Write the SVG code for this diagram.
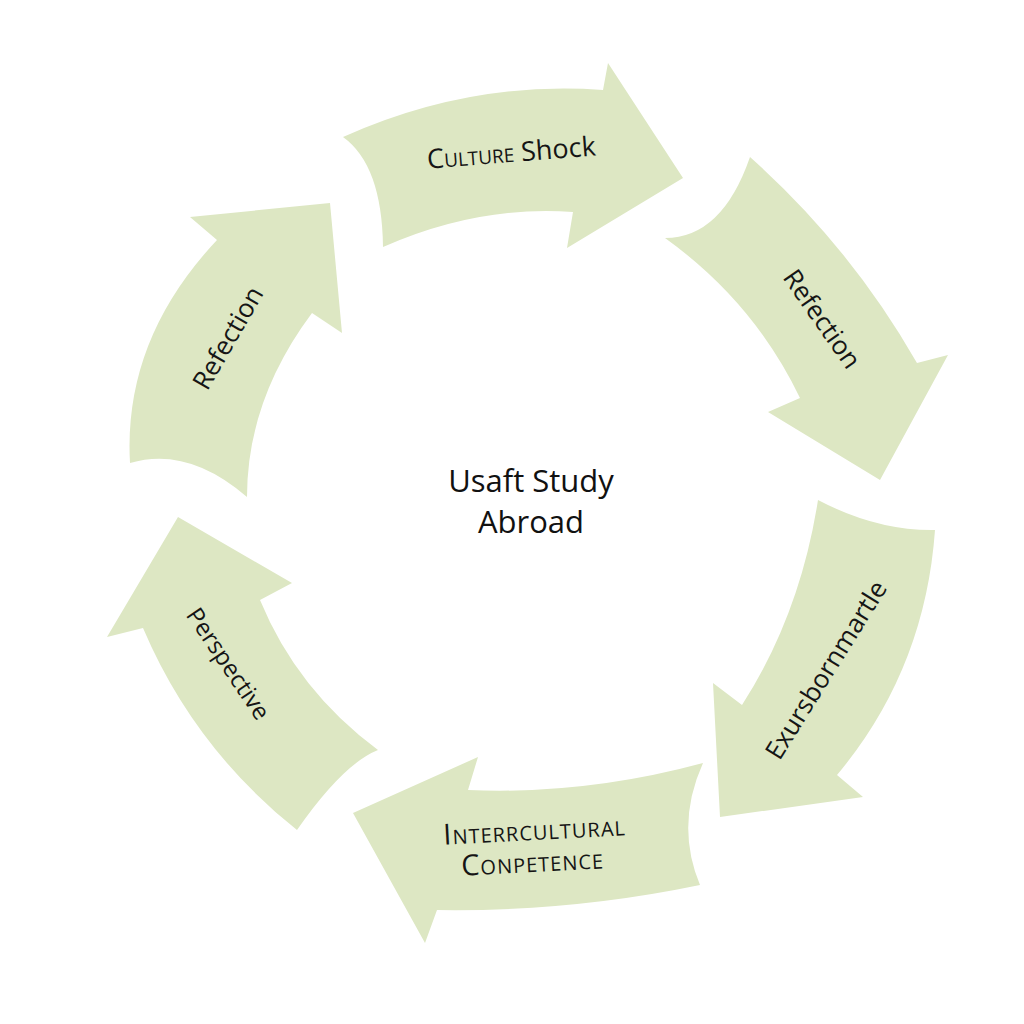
<svg xmlns="http://www.w3.org/2000/svg" width="1024" height="1024" viewBox="0 0 1024 1024">
<style>
.arrow{fill:#dde7c3;stroke:none}
.lbl{font-family:"Open Sans","Noto Sans",sans-serif;fill:#151515;text-anchor:middle}
.sc{font-variant:small-caps}
.center{font-family:"Open Sans","Noto Sans",sans-serif;fill:#111;text-anchor:middle;font-size:31px}
</style>
<rect width="1024" height="1024" fill="#ffffff"/>
<g id="connectors">
<g id="arrow-culture-shock">
<path class="arrow" d="M 343 137 Q 470 80 603 90 L 608 63 L 683 178 L 567 248 L 573 212 Q 478 205 383 247 Q 382 165 343 137 Z"/>
<text class="lbl" font-size="27" transform="translate(512 162) rotate(-4.5)"><tspan class="sc">Culture</tspan> Shock</text>
</g>
<g id="arrow-reflection-right">
<path class="arrow" d="M 750 157 Q 850 246 917 363 L 948 355 L 880 480 L 768 412 L 800 398 Q 754 302 665 238 Q 722 238 750 157 Z"/>
<text class="lbl" font-size="26" transform="translate(822 319) rotate(55)" dy="9">Refection</text>
</g>
<g id="arrow-exursbornmartle">
<path class="arrow" d="M 818 500 Q 877 531 935 530 Q 925 670 837 775 L 863 797 L 720 817 L 713 683 L 742 705 Q 800 615 818 500 Z"/>
<text class="lbl" font-size="26" transform="translate(826 670) rotate(-58)" dy="9">Exursbornmartle</text>
</g>
<g id="arrow-intercultural">
<path class="arrow" d="M 703 763 Q 675 825 700 885 Q 570 912 437 910 L 425 943 L 353 813 L 478 757 L 468 790 Q 585 795 703 763 Z"/>
<text class="lbl sc" font-size="29" letter-spacing="1" transform="translate(535 840) rotate(-3)">Interrcultural</text>
<text class="lbl sc" font-size="29" letter-spacing="1" transform="translate(533 872) rotate(-3)">Conpetence</text>
</g>
<g id="arrow-perspective">
<path class="arrow" d="M 178 517 L 292 583 L 260 600 Q 297 690 378 750 Q 343 764 297 830 Q 194 748 143 628 L 107 637 Z"/>
<text class="lbl" font-size="24" transform="translate(228 664) rotate(56)" dy="8">Perspective</text>
</g>
<g id="arrow-reflection-left">
<path class="arrow" d="M 330 203 L 342 333 L 312 313 Q 247 400 247 497 Q 188 446 130 463 Q 123 340 217 240 L 190 217 Z"/>
<text class="lbl" font-size="26" transform="translate(228 338) rotate(-60)" dy="9">Refection</text>
</g>
</g>
<g id="center-node">
<text class="center" x="531" y="492">Usaft Study</text>
<text class="center" x="531" y="533">Abroad</text>
</g>
</svg>
